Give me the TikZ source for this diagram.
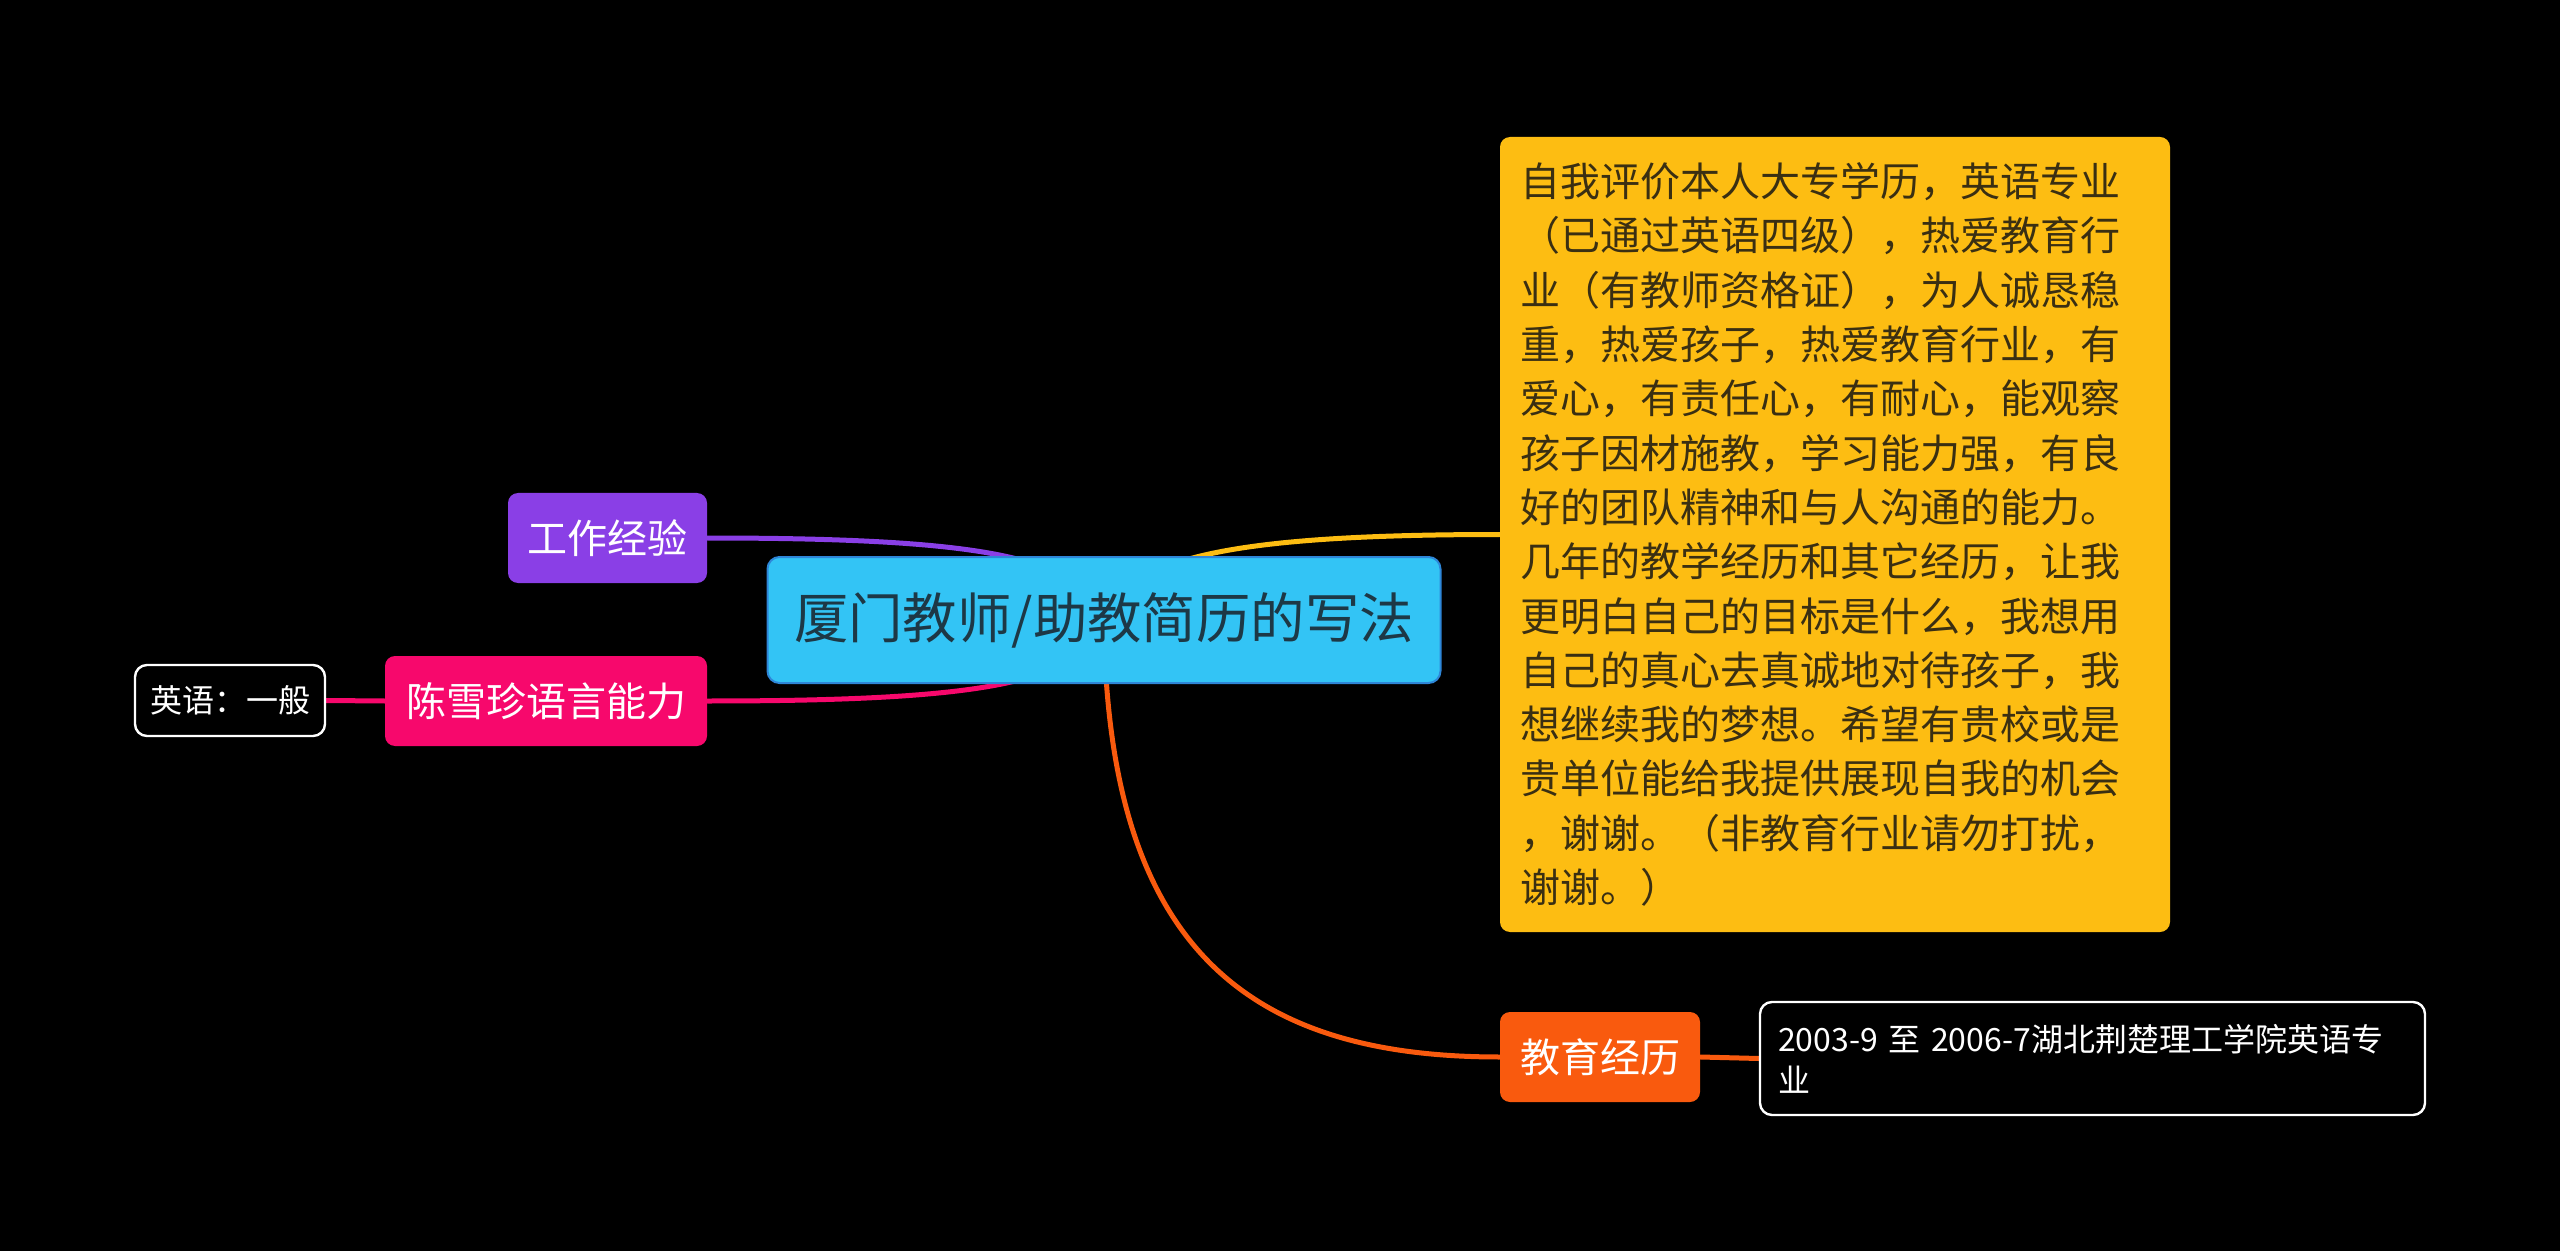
\documentclass[tikz,border=0pt]{standalone}
\usepackage{fontspec}
\setmainfont{Noto Sans CJK SC}
\definecolor{bgc}{HTML}{000000}
\definecolor{rootfill}{HTML}{33C4F5}
\definecolor{rootdraw}{HTML}{2E86D8}
\definecolor{roottext}{HTML}{1D3846}
\definecolor{cpurple}{HTML}{8A3FE6}
\definecolor{cpink}{HTML}{F7086C}
\definecolor{cyellow}{HTML}{FDBD12}
\definecolor{corange}{HTML}{F95A0E}
\definecolor{ytext}{HTML}{3A2F12}
\pgfdeclarelayer{bg}
\pgfsetlayers{bg,main}
\tikzset{
  box/.style={rounded corners=5pt, inner sep=0pt, text=white, font=\fontsize{20}{24}\selectfont},
  leafbox/.style={draw=white, line width=1.2pt, fill=black, rounded corners=6pt, text=white},
  conn/.style={line width=2.5pt, line cap=round}
}
\begin{document}
\begin{tikzpicture}[x=0.5pt,y=-0.5pt]
\begin{pgfonlayer}{bg}
\fill[bgc] (0,0) rectangle (2560,1251);
\end{pgfonlayer}
\useasboundingbox (0,0) rectangle (2560,1251);

\node[draw=rootdraw, line width=1pt, fill=rootfill, rounded corners=6pt, minimum width=336.5pt, minimum height=63pt, inner sep=0pt, text=roottext, font=\fontsize{27.2}{32}\selectfont] (root) at (1104,620) {厦门教师/助教简历的写法};

\node[box, fill=cpurple, minimum width=99.5pt, minimum height=45pt] (work) at (607.5,538) {工作经验};
\node[box, fill=cpink, minimum width=161pt, minimum height=45pt] (lang) at (546,701) {陈雪珍语言能力};
\node[leafbox, minimum width=95pt, minimum height=35.5pt, inner sep=0pt, font=\fontsize{16}{20}\selectfont] (eng) at (230,700.5) {英语：一般};

\node[fill=cyellow, rounded corners=5pt, text=ytext, align=left, text width=315pt, inner xsep=10pt, inner ysep=0pt, minimum height=397.5pt, font=\fontsize{20}{27.15}\selectfont] (self) at (1835,534.5) {自我评价本人大专学历，英语专业\\（已通过英语四级），热爱教育行\\业（有教师资格证），为人诚恳稳\\重，热爱孩子，热爱教育行业，有\\爱心，有责任心，有耐心，能观察\\孩子因材施教，学习能力强，有良\\好的团队精神和与人沟通的能力。\\几年的教学经历和其它经历，让我\\更明白自己的目标是什么，我想用\\自己的真心去真诚地对待孩子，我\\想继续我的梦想。希望有贵校或是\\贵单位能给我提供展现自我的机会\\，谢谢。（非教育行业请勿打扰，\\谢谢。）};

\node[box, fill=corange, minimum width=100pt, minimum height=45pt] (edu) at (1600,1057) {教育经历};
\node[leafbox, align=left, text width=314.5pt, inner xsep=9pt, inner ysep=0pt, minimum height=56.5pt, font=\fontsize{16}{20.5}\selectfont] (school) at (2092.5,1058.5) {2003-9 至 2006-7湖北荆楚理工学院英语专\\业};

\begin{pgfonlayer}{bg}
\draw[conn, cpurple] (work.east) .. controls +(293,0) and +(-24,-60) .. (root.center);
\draw[conn, cpink] (lang.east) .. controls +(293,0) and +(-24,60) .. (root.center);
\draw[conn, cyellow] (root.center) .. controls +(24,-60) and +(-280,0) .. (self.west);
\draw[conn, corange] (root.center) .. controls +(3,330) and +(-250,0) .. (edu.west);
\draw[conn, cpink] (eng.east) -- (lang.west);
\draw[conn, corange] (edu.east) -- (school.west);
\end{pgfonlayer}
\end{tikzpicture}
\end{document}
